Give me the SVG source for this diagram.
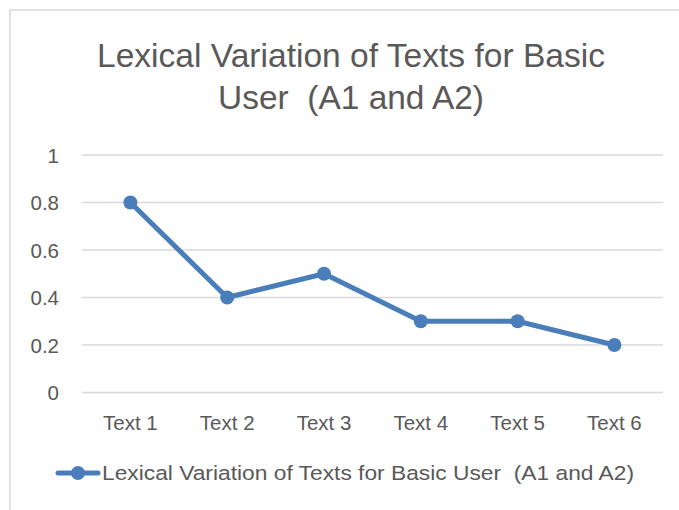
<svg xmlns="http://www.w3.org/2000/svg" width="679" height="510" viewBox="0 0 679 510">
<style>
.t{font-family:"Liberation Sans",Arial,sans-serif;fill:#595959}
.ax{font-size:20.5px}
.grid{stroke:#D9D9D9;stroke-width:1.5}
.ser{fill:none;stroke:#4A7EBB;stroke-width:5;stroke-linejoin:round}
.mk{fill:#4A7EBB}
</style>
<rect x="0" y="0" width="679" height="510" fill="#fff"/>
<rect x="10" y="10" width="700" height="520" fill="#fff" stroke="#D9D9D9" stroke-width="1.5"/>
<g id="title">
<text class="t" x="351" y="67" font-size="33" text-anchor="middle" textLength="508" lengthAdjust="spacingAndGlyphs">Lexical Variation of Texts for Basic</text>
<text class="t" x="351" y="109" font-size="33" text-anchor="middle" textLength="266" lengthAdjust="spacingAndGlyphs">User &#160;(A1 and A2)</text>
</g>
<g id="gridlines">
<line class="grid" x1="82" y1="155" x2="663" y2="155"/>
<line class="grid" x1="82" y1="202.5" x2="663" y2="202.5"/>
<line class="grid" x1="82" y1="250" x2="663" y2="250"/>
<line class="grid" x1="82" y1="297.5" x2="663" y2="297.5"/>
<line class="grid" x1="82" y1="345" x2="663" y2="345"/>
<line class="grid" x1="82" y1="392.5" x2="663" y2="392.5"/>
</g>
<g id="yaxis" class="t ax" text-anchor="end">
<text x="59" y="162.5">1</text>
<text x="59" y="210">0.8</text>
<text x="59" y="257.5">0.6</text>
<text x="59" y="305">0.4</text>
<text x="59" y="352.5">0.2</text>
<text x="59" y="400">0</text>
</g>
<g id="xaxis" class="t ax" text-anchor="middle">
<text x="130.4" y="430">Text 1</text>
<text x="227.2" y="430">Text 2</text>
<text x="324" y="430">Text 3</text>
<text x="420.8" y="430">Text 4</text>
<text x="517.6" y="430">Text 5</text>
<text x="614.4" y="430">Text 6</text>
</g>
<g id="connectors">
<polyline class="ser" points="130.4,202.5 227.2,297.5 324,273.75 420.8,321.25 517.6,321.25 614.4,345"/>
</g>
<g id="markers">
<circle class="mk" cx="130.4" cy="202.5" r="7"/>
<circle class="mk" cx="227.2" cy="297.5" r="7"/>
<circle class="mk" cx="324" cy="273.75" r="7"/>
<circle class="mk" cx="420.8" cy="321.25" r="7"/>
<circle class="mk" cx="517.6" cy="321.25" r="7"/>
<circle class="mk" cx="614.4" cy="345" r="7"/>
</g>
<g id="legend">
<line x1="58" y1="473" x2="98" y2="473" stroke="#4A7EBB" stroke-width="5" stroke-linecap="round"/>
<circle class="mk" cx="78" cy="473" r="7"/>
<text class="t ax" x="102" y="480" textLength="532" lengthAdjust="spacingAndGlyphs">Lexical Variation of Texts for Basic User &#160;(A1 and A2)</text>
</g>
</svg>
